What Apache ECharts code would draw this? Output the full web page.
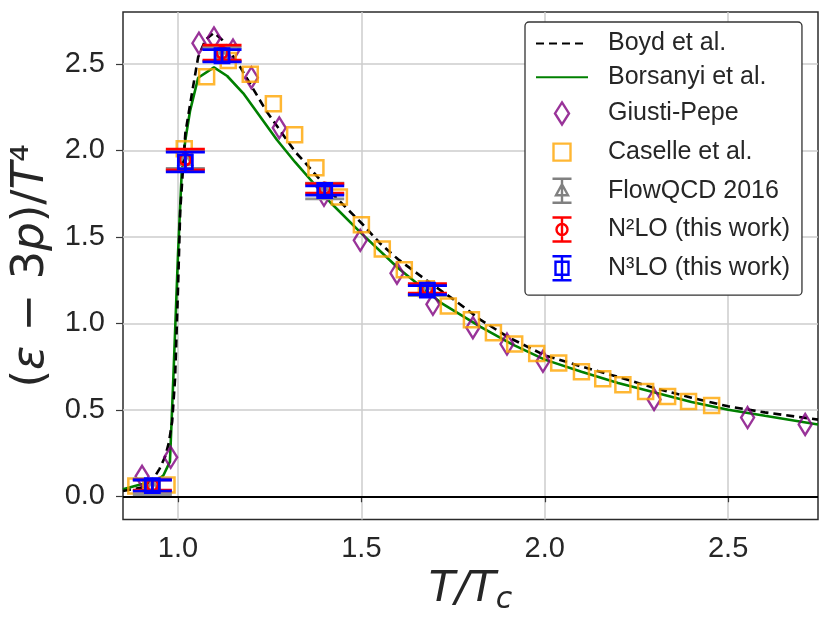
<!DOCTYPE html>
<html lang="en">
<head>
    <meta charset="UTF-8">
    <title>trace anomaly</title>
    <script src="https://cdn.jsdelivr.net/npm/echarts@6.0.0/dist/echarts.min.js"></script>
    <style>
        html, body { margin: 0; padding: 0; background: #fff; }
        #chart { width: 831px; height: 620px; }
    </style>
</head>
<body>
<div id="chart"></div>
<script>
    // axis ticks
    var xTicks = [1.0, 1.5, 2.0, 2.5];
    var yTicks = [0.0, 0.5, 1.0, 1.5, 2.0, 2.5];

    // Boyd et al. (dashed curve)
    var boydT = [0.85, 0.90, 0.93, 0.95, 0.965, 0.975, 0.984, 0.992, 1.0, 1.006, 1.02, 1.038, 1.055, 1.075,
        1.098, 1.12, 1.17, 1.24, 1.32, 1.34, 1.42, 1.5, 1.552, 1.6, 1.68, 1.75, 1.825, 1.9, 2.0, 2.1, 2.2,
        2.3, 2.4, 2.5, 2.6, 2.745];
    var boydY = [0.03, 0.05, 0.09, 0.16, 0.23, 0.31, 0.43, 0.68, 1.2, 1.65, 2.1, 2.33, 2.54, 2.64,
        2.68, 2.64, 2.48, 2.23, 1.99, 1.945, 1.75, 1.58, 1.46, 1.37, 1.245, 1.14, 1.02, 0.92, 0.815, 0.75, 0.69,
        0.625, 0.57, 0.52, 0.485, 0.443];

    // Borsanyi et al. (solid curve)
    var borsT = [0.85, 0.90, 0.94, 0.96, 0.978, 0.987, 1.0, 1.01, 1.02, 1.033, 1.055, 1.098, 1.134, 1.178,
        1.27, 1.32, 1.415, 1.5, 1.6, 1.716, 1.825, 1.91, 2.0, 2.1, 2.2, 2.3, 2.4, 2.5, 2.6, 2.745];
    var borsY = [0.04, 0.07, 0.09, 0.12, 0.2, 0.67, 1.4, 1.87, 2.06, 2.23, 2.42, 2.48, 2.43, 2.33,
        2.06, 1.93, 1.70, 1.52, 1.32, 1.12, 0.98, 0.88, 0.79, 0.72, 0.655, 0.60, 0.545, 0.50, 0.465, 0.415];

    // Giusti-Pepe
    var giustiT = [0.902, 0.98, 1.057, 1.098, 1.15, 1.2, 1.276, 1.398, 1.497, 1.597, 1.695, 1.804, 1.897,
        1.995, 2.298, 2.553, 2.71];
    var giustiY = [0.115, 0.225, 2.62, 2.65, 2.58, 2.42, 2.13, 1.74, 1.48, 1.29, 1.11, 0.975, 0.88,
        0.78, 0.56, 0.455, 0.415];

    // Caselle et al.
    var caselleT = [0.885, 0.97, 1.017, 1.078, 1.137, 1.197, 1.26, 1.318, 1.376, 1.44, 1.50, 1.557, 1.617,
        1.677, 1.737, 1.80, 1.86, 1.918, 1.978, 2.038, 2.10, 2.158, 2.213, 2.275, 2.335, 2.392, 2.455];
    var caselleY = [0.06, 0.065, 2.01, 2.425, 2.52, 2.44, 2.27, 2.09, 1.90, 1.73, 1.57, 1.43, 1.31,
        1.20, 1.10, 1.02, 0.945, 0.88, 0.825, 0.77, 0.72, 0.68, 0.645, 0.605, 0.577, 0.548, 0.525];

    // gradient flow results with errors
    var flowT = [0.93, 1.02, 1.12, 1.40, 1.68];
    var flowY = [0.055, 1.945, 2.555, 1.765, 1.19];
    var flowErr = [0.045, 0.05, 0.04, 0.045, 0.03];
    var n2loY = [0.065, 1.947, 2.565, 1.78, 1.202];
    var n2loErr = [0.03, 0.06, 0.043, 0.027, 0.027];
    var n3loY = [0.062, 1.933, 2.547, 1.768, 1.192];
    var n3loErr = [0.032, 0.057, 0.035, 0.027, 0.026];

    function pairs(xs, ys) {
        return xs.map(function (x, i) { return [x, ys[i]]; });
    }
    function triples(xs, ys, es) {
        return xs.map(function (x, i) { return [x, ys[i], es[i]]; });
    }

    var CAP = 19.5;
    function errorBar(marker, color) {
        return function (params, api) {
            var x = api.value(0), y = api.value(1), e = api.value(2);
            var c = api.coord([x, y]);
            var top = api.coord([x, y + e]);
            var bot = api.coord([x, y - e]);
            var st = { stroke: color, lineWidth: 2.8, fill: 'none' };
            var kids = [
                { type: 'line', shape: { x1: c[0], y1: top[1], x2: c[0], y2: bot[1] }, style: st },
                { type: 'line', shape: { x1: c[0] - CAP, y1: top[1], x2: c[0] + CAP, y2: top[1] }, style: st },
                { type: 'line', shape: { x1: c[0] - CAP, y1: bot[1], x2: c[0] + CAP, y2: bot[1] }, style: st }
            ];
            if (marker === 'circle') {
                kids.push({ type: 'circle', shape: { cx: c[0], cy: c[1], r: 5.5 }, style: st });
            } else if (marker === 'rect') {
                kids.push({ type: 'rect', shape: { x: c[0] - 7, y: c[1] - 7, width: 14, height: 14 }, style: st });
            } else {
                kids.push({ type: 'polygon', shape: { points: [[c[0], c[1] - 7], [c[0] + 6.5, c[1] + 5], [c[0] - 6.5, c[1] + 5]] }, style: st });
            }
            return { type: 'group', children: kids };
        };
    }

    // legend icons (27x27 box so every marker keeps its own size)
    var BOX = 'M0,0M27,27';
    var BAR = 'M4,1.5H23M13.5,1.5V25.5M4,25.5H23';
    var iconDiamond = 'path://' + BOX + 'M13.5,2.5L20.5,13.5L13.5,24.5L6.5,13.5Z';
    var iconSquare = 'path://' + BOX + 'M5,5H22V22H5Z';
    var iconTri = 'path://' + BOX + BAR + 'M13.5,7L19.5,18H7.5Z';
    var iconCirc = 'path://' + BOX + BAR + 'M19,13.5A5.5,5.5 0 1 1 8,13.5A5.5,5.5 0 1 1 19,13.5Z';
    var iconRect = 'path://' + BOX + BAR + 'M7,7H20V20H7Z';
    var noSymbol = { color: 'rgba(0,0,0,0)', borderWidth: 0, opacity: 0 };

    var font = 'Liberation Sans, Arial, sans-serif';
    var chart = echarts.init(document.getElementById('chart'));
    chart.setOption({
        animation: false,
        backgroundColor: '#fff',
        grid: {
            left: 123, right: 13, top: 12, bottom: 100,
            show: true, borderColor: '#2b2b2b', borderWidth: 1.5, backgroundColor: '#fff'
        },
        legend: {
            orient: 'vertical',
            left: 525, top: 22,
            padding: [8, 12, 11, 10],
            itemWidth: 52, itemHeight: 27, itemGap: 6.7,
            backgroundColor: '#fff',
            borderColor: '#333', borderWidth: 1.3, borderRadius: 4,
            textStyle: { fontFamily: font, fontSize: 25, lineHeight: 27, color: '#262626', padding: [0, 0, 0, 15] },
            data: [
                { name: 'Boyd et al.', itemStyle: noSymbol },
                { name: 'Borsanyi et al.', itemStyle: noSymbol },
                { name: 'Giusti-Pepe', icon: iconDiamond, itemStyle: { color: 'none', borderColor: '#800080', borderWidth: 2.4 } },
                { name: 'Caselle et al.', icon: iconSquare, itemStyle: { color: 'none', borderColor: '#FFA500', borderWidth: 2.4 } },
                { name: 'FlowQCD 2016', icon: iconTri, itemStyle: { color: 'none', borderColor: '#808080', borderWidth: 2.4 } },
                { name: 'N²LO (this work)', icon: iconCirc, itemStyle: { color: 'none', borderColor: '#ff0000', borderWidth: 2.4 } },
                { name: 'N³LO (this work)', icon: iconRect, itemStyle: { color: 'none', borderColor: '#0000ff', borderWidth: 2.4 } }
            ]
        },
        xAxis: {
            type: 'value', min: 0.85, max: 2.745,
            name: '{t|T/T}{s|c}', nameLocation: 'middle', nameGap: 43,
            nameTextStyle: {
                rich: {
                    t: { fontFamily: 'DejaVu Sans', fontStyle: 'italic', fontSize: 43, lineHeight: 50, color: '#262626' },
                    s: { fontFamily: 'DejaVu Sans', fontStyle: 'italic', fontSize: 30, lineHeight: 30, verticalAlign: 'bottom', color: '#262626' }
                }
            },
            axisLine: { show: false },
            axisTick: { show: true, length: 6, customValues: xTicks, lineStyle: { color: '#3a3a3a', width: 1.2 } },
            axisLabel: {
                customValues: xTicks, margin: 15, fontFamily: font, fontSize: 29, color: '#262626',
                formatter: function (v) { return v.toFixed(1); }
            },
            splitLine: { show: true, lineStyle: { color: '#cccccc', width: 1.5 } }
        },
        yAxis: {
            type: 'value', min: -0.135, max: 2.8,
            name: '{r|(}{i|ε}{r| − 3}{i|p}{r|)/}{i|T}{r|⁴}', nameLocation: 'middle', nameGap: 64, nameRotate: 90,
            nameTextStyle: {
                rich: {
                    r: { fontFamily: 'DejaVu Sans', fontSize: 45, color: '#262626' },
                    i: { fontFamily: 'DejaVu Sans', fontStyle: 'italic', fontSize: 45, color: '#262626' }
                }
            },
            axisLine: { show: false },
            axisTick: { show: true, length: 7, customValues: yTicks, lineStyle: { color: '#3a3a3a', width: 1.2 } },
            axisLabel: {
                customValues: yTicks, margin: 18, fontFamily: font, fontSize: 29, color: '#262626',
                formatter: function (v) { return v.toFixed(1); }
            },
            splitLine: { show: true, lineStyle: { color: '#cccccc', width: 1.5 } }
        },
        series: [
            {
                name: 'Boyd et al.', type: 'line', data: pairs(boydT, boydY),
                symbol: 'none', smooth: false, z: 3,
                lineStyle: { color: '#000', width: 2.6, type: [8, 5] },
                itemStyle: { color: '#000' },
                markLine: {
                    silent: true, symbol: 'none', label: { show: false },
                    lineStyle: { color: '#000', width: 2.2, type: 'solid' },
                    data: [{ yAxis: 0 }]
                }
            },
            {
                name: 'Borsanyi et al.', type: 'line', data: pairs(borsT, borsY),
                symbol: 'none', z: 2,
                lineStyle: { color: '#008000', width: 2.6 },
                itemStyle: { color: '#008000' }
            },
            {
                name: 'Giusti-Pepe', type: 'scatter', data: pairs(giustiT, giustiY),
                symbol: 'diamond', symbolSize: [13, 21], z: 4,
                itemStyle: { color: 'rgba(0,0,0,0)', borderColor: '#800080', borderWidth: 2.5 }
            },
            {
                name: 'Caselle et al.', type: 'scatter', data: pairs(caselleT, caselleY),
                symbol: 'rect', symbolSize: 15, z: 4,
                itemStyle: { color: 'rgba(0,0,0,0)', borderColor: '#FFA500', borderWidth: 2.5 }
            },
            {
                name: 'FlowQCD 2016', type: 'custom', data: triples(flowT, flowY, flowErr),
                renderItem: errorBar('tri', '#909090'), z: 5,
                itemStyle: { color: '#808080' }
            },
            {
                name: 'N²LO (this work)', type: 'custom', data: triples(flowT, n2loY, n2loErr),
                renderItem: errorBar('circle', '#ff0000'), z: 6,
                itemStyle: { color: '#ff0000' }
            },
            {
                name: 'N³LO (this work)', type: 'custom', data: triples(flowT, n3loY, n3loErr),
                renderItem: errorBar('rect', '#0000ff'), z: 7,
                itemStyle: { color: '#0000ff' }
            }
        ]
    });
</script>
</body>
</html>
